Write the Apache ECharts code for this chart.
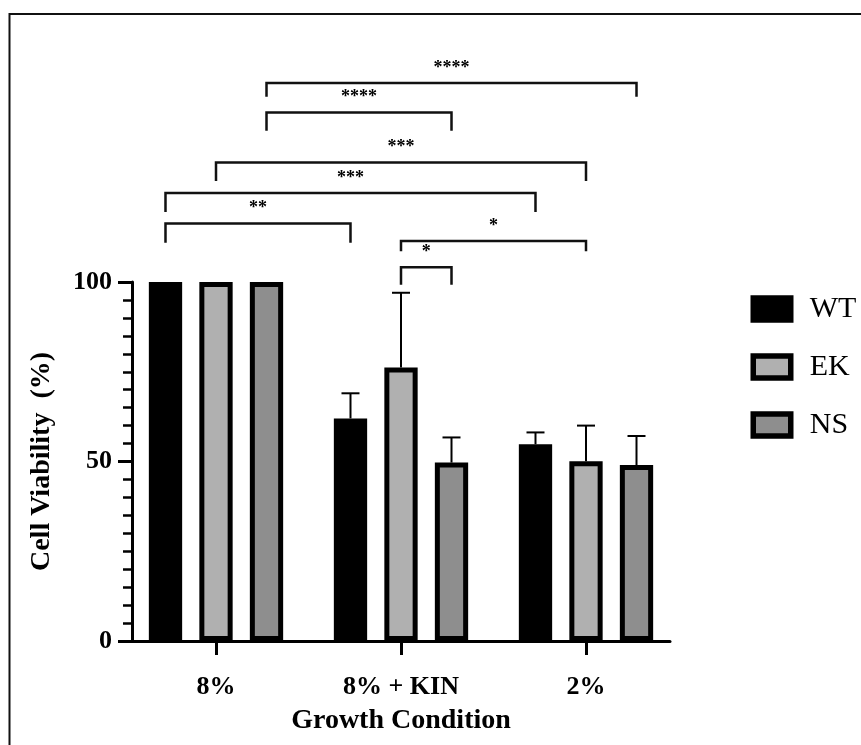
<!DOCTYPE html>
<html>
<head>
<meta charset="utf-8">
<script src="https://cdn.jsdelivr.net/npm/echarts@6/dist/echarts.min.js"></script>
<style>
html,body{margin:0;padding:0;background:#fff;}
#chart{width:861px;height:745px;}
</style>
</head>
<body>
<div id="chart"></div>
<script>
// ---------- data ----------
const categories = ['8%', '8% + KIN', '2%'];
const groupNames = ['WT', 'EK', 'NS'];
const wtMean = [100, 62.0, 54.8];
const wtSD   = [0, 7.0, 3.3];
const ekMean = [100, 76.2, 50.1];
const ekSD   = [0, 20.8, 9.9];
const nsMean = [100, 49.7, 49.0];
const nsSD   = [0, 7.0, 8.1];
const yTickValues = [0, 50, 100];
// significance brackets: [category, group] of each end, height of bar, height of feet
const bracketFrom  = [[0,2],[0,2],[0,1],[0,0],[0,0],[1,1],[1,1]];
const bracketTo    = [[2,2],[1,2],[2,1],[2,0],[1,0],[2,1],[1,2]];
const bracketLevel = [155.4, 147.2, 133.3, 124.8, 116.3, 111.4, 104.1];
const bracketFoot  = [151.6, 142.1, 128.1, 119.5, 110.9, 108.6, 99.2];
const bracketLabel = ['****', '****', '***', '***', '**', '*', '*'];

// ---------- styling ----------
const fills = ['#000000', '#b0b0b0', '#8e8e8e'];
const groupShift = [-0.273, 0, 0.273];   // fraction of category band
const barFrac = 0.18;                     // bar width as fraction of band
const barBorder = 5;
const serif = '"Liberation Serif", "Times New Roman", serif';

const chart = echarts.init(document.getElementById('chart'), null, {renderer: 'canvas'});

function barRender(k) {
  return function (params, api) {
    const cat = api.value(0), v = api.value(1), sd = api.value(2);
    const band = api.size([1, 0])[0];
    const base = api.coord([cat, 0]);
    const top = api.coord([cat, v]);
    const cx = base[0] + groupShift[k] * band;
    const w = band * barFrac;
    const children = [];
    if (sd > 0) {
      const et = api.coord([cat, v + sd]);
      children.push({type: 'line', shape: {x1: cx, y1: top[1], x2: cx, y2: et[1]},
        style: {stroke: '#000', lineWidth: 2}});
      children.push({type: 'line', shape: {x1: cx - 9, y1: et[1], x2: cx + 9, y2: et[1]},
        style: {stroke: '#000', lineWidth: 2}});
    }
    children.push({type: 'rect',
      shape: {x: cx - w / 2 + barBorder / 2, y: top[1] + barBorder / 2,
              width: w - barBorder, height: base[1] - top[1] - barBorder},
      style: {fill: fills[k], stroke: '#000', lineWidth: barBorder}});
    return {type: 'group', children: children};
  };
}

function bracketRender(params, api) {
  const i = params.dataIndex;
  const band = api.size([1, 0])[0];
  const a = bracketFrom[i], b = bracketTo[i];
  const xa = api.coord([a[0], 0])[0] + groupShift[a[1]] * band;
  const xb = api.coord([b[0], 0])[0] + groupShift[b[1]] * band;
  const yl = api.coord([0, bracketLevel[i]])[1];
  const yf = api.coord([0, bracketFoot[i]])[1];
  return {type: 'group', children: [
    {type: 'polyline', shape: {points: [[xa, yf], [xa, yl], [xb, yl], [xb, yf]]},
      style: {stroke: '#111', lineWidth: 2.5, fill: null}},
    {type: 'text', x: (xa + xb) / 2, y: yl - 15,
      style: {text: bracketLabel[i], fill: '#000', font: 'bold 18px ' + serif,
              align: 'center', verticalAlign: 'middle'}}
  ]};
}

const means = [wtMean, ekMean, nsMean];
const sds = [wtSD, ekSD, nsSD];
const series = groupNames.map((name, k) => ({
  name: name,
  type: 'custom',
  xAxisIndex: 0, yAxisIndex: 0,
  coordinateSystem: 'cartesian2d',
  renderItem: barRender(k),
  encode: {x: 0, y: 1},
  itemStyle: {color: fills[k], borderColor: '#000', borderWidth: barBorder},
  data: categories.map((c, i) => [i, means[k][i], sds[k][i]]),
  clip: false, z: 3
}));
series.push({
  type: 'custom', name: 'brackets',
  xAxisIndex: 0, yAxisIndex: 0,
  renderItem: bracketRender,
  encode: {x: 0, y: 1},
  data: bracketLevel.map((lv, i) => [bracketFrom[i][0], lv]),
  clip: false, z: 4, silent: true
});

const option = {
  backgroundColor: '#ffffff',
  animation: false,
  grid: [
    {left: 123.5, width: 555, top: 30.7, height: 610.3, outerBoundsMode: 'none', containLabel: false},
    {left: 132, width: 538, top: 282, height: 359, outerBoundsMode: 'none', containLabel: false}
  ],
  xAxis: [
    {type: 'category', gridIndex: 0, data: categories,
      name: 'Growth Condition', nameLocation: 'middle', nameGap: 66,
      nameTextStyle: {fontFamily: serif, fontWeight: 'bold', fontSize: 28, color: '#000'},
      axisLine: {show: false},
      axisTick: {show: true, alignWithLabel: true, length: 14, lineStyle: {color: '#000', width: 3}},
      axisLabel: {margin: 33, fontFamily: serif, fontWeight: 'bold', fontSize: 26, color: '#000'},
      splitLine: {show: false}},
    {type: 'value', gridIndex: 1, min: 0, max: 1,
      axisLine: {show: true, lineStyle: {color: '#000', width: 3}},
      axisTick: {show: false}, axisLabel: {show: false}, splitLine: {show: false}}
  ],
  yAxis: [
    {type: 'value', gridIndex: 0, min: 0, max: 170, show: false, splitLine: {show: false}},
    {type: 'value', gridIndex: 1, min: yTickValues[0], max: yTickValues[yTickValues.length - 1],
      interval: yTickValues[1] - yTickValues[0],
      name: 'Cell Viability  (%)', nameLocation: 'middle', nameGap: 76, nameRotate: 90,
      nameTextStyle: {fontFamily: serif, fontWeight: 'bold', fontSize: 28, color: '#000'},
      axisLine: {show: true, lineStyle: {color: '#000', width: 3}},
      axisTick: {show: true, length: 14, lineStyle: {color: '#000', width: 3}},
      minorTick: {show: true, splitNumber: 10, length: 9, lineStyle: {color: '#000', width: 2.5}},
      axisLabel: {margin: 20, fontFamily: serif, fontWeight: 'bold', fontSize: 26, color: '#000'},
      splitLine: {show: false}}
  ],
  legend: {
    orient: 'vertical', left: 750.5, top: 294, padding: 0,
    itemWidth: 37.5, itemHeight: 22, itemGap: 28,
    icon: 'rect',
    textStyle: {fontFamily: serif, fontSize: 30, color: '#000', lineHeight: 22, padding: [0, 0, 0, 14]},
    data: groupNames.map((n, k) => ({name: n, icon: 'rect',
      itemStyle: {color: fills[k], borderColor: '#000', borderWidth: 5.5}}))
  },
  graphic: [
    {type: 'rect', shape: {x: 9.5, y: 14, width: 900, height: 800},
      style: {fill: null, stroke: '#111', lineWidth: 2}, z: 0, silent: true}
  ],
  series: series
};
chart.setOption(option);
</script>
</body>
</html>
